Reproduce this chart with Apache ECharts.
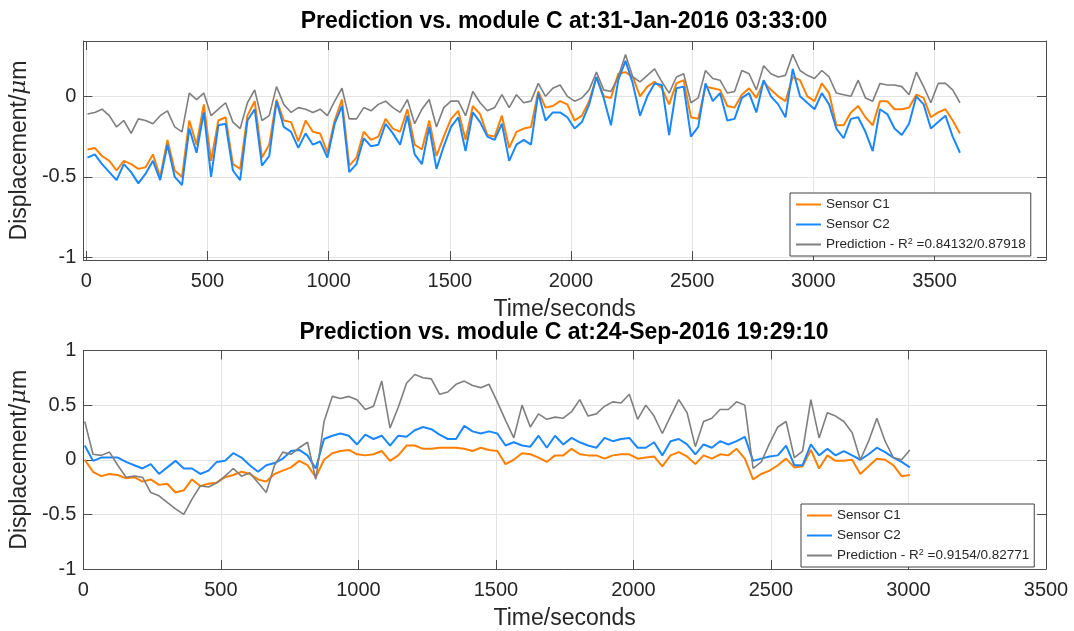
<!DOCTYPE html>
<html>
<head>
    <meta charset="utf-8">
    <title>Prediction vs. module C</title>
    <script src="https://cdn.jsdelivr.net/npm/echarts@6/dist/echarts.min.js"></script>
    <style>
        html, body {margin:0;padding:0;background:#fff;}
        #chart {width:1074px;height:631px;}
    </style>
</head>
<body>
<div id="chart"></div>
<script>
    // sample times: first point and step (seconds)
    var topStart = 5, botStart = 5, step = 30;

    // top panel: 31-Jan-2016 03:33:00
    var topC1 = [-0.33,-0.32,-0.37,-0.40,-0.46,-0.40,-0.42,-0.45,-0.44,-0.36,-0.50,-0.27,-0.46,-0.50,-0.15,-0.30,-0.05,-0.40,-0.15,-0.13,
        -0.42,-0.45,-0.12,-0.03,-0.38,-0.30,-0.02,-0.15,-0.16,-0.28,-0.15,-0.22,-0.23,-0.35,-0.15,-0.02,-0.43,-0.38,-0.22,-0.27,
        -0.25,-0.14,-0.20,-0.22,-0.08,-0.30,-0.33,-0.15,-0.37,-0.25,-0.14,-0.09,-0.27,-0.06,-0.11,-0.24,-0.25,-0.12,-0.32,-0.22,
        -0.20,-0.19,0.03,-0.07,-0.06,-0.03,-0.05,-0.15,-0.12,-0.03,0.12,0.00,-0.01,0.14,0.15,0.12,0.00,0.06,0.09,0.05,
        -0.05,0.08,0.10,-0.13,-0.14,0.06,0.05,0.04,-0.06,-0.07,0.01,0.05,-0.01,0.09,0.04,0.00,-0.03,0.12,0.10,0.00,
        -0.03,0.08,0.02,-0.18,-0.18,-0.10,-0.06,-0.13,-0.18,-0.03,-0.03,-0.08,-0.08,-0.07,0.01,-0.01,-0.13,-0.10,-0.08,-0.15,-0.23];
    var topC2 = [-0.38,-0.36,-0.42,-0.47,-0.52,-0.42,-0.47,-0.54,-0.48,-0.40,-0.52,-0.30,-0.50,-0.55,-0.20,-0.35,-0.10,-0.50,-0.18,-0.17,
        -0.46,-0.52,-0.15,-0.08,-0.43,-0.37,-0.03,-0.19,-0.22,-0.32,-0.23,-0.30,-0.28,-0.38,-0.17,-0.06,-0.47,-0.42,-0.26,-0.31,
        -0.30,-0.17,-0.23,-0.30,-0.12,-0.36,-0.42,-0.19,-0.45,-0.31,-0.19,-0.13,-0.34,-0.10,-0.16,-0.25,-0.27,-0.17,-0.40,-0.30,
        -0.27,-0.30,0.02,-0.15,-0.10,-0.10,-0.13,-0.20,-0.16,-0.05,0.12,-0.01,-0.18,0.10,0.22,0.08,-0.12,0.00,0.08,0.07,
        -0.24,0.05,0.06,-0.25,-0.19,0.08,-0.03,0.02,-0.15,-0.14,-0.01,0.02,-0.10,0.10,0.00,-0.05,-0.13,0.17,0.00,-0.04,
        -0.08,0.02,-0.05,-0.20,-0.26,-0.14,-0.13,-0.22,-0.34,-0.08,-0.11,-0.20,-0.24,-0.17,0.00,-0.05,-0.20,-0.16,-0.12,-0.25,-0.35];
    var topPred = [-0.11,-0.10,-0.08,-0.12,-0.19,-0.15,-0.23,-0.14,-0.15,-0.17,-0.12,-0.09,-0.19,-0.22,0.02,-0.02,0.02,-0.12,-0.08,-0.04,
        -0.16,-0.20,-0.04,0.04,-0.15,-0.12,0.06,-0.05,-0.10,-0.07,-0.08,-0.10,-0.08,-0.12,-0.03,0.05,-0.14,-0.14,-0.07,-0.09,
        -0.05,-0.03,-0.07,-0.10,-0.02,-0.17,-0.08,-0.02,-0.19,-0.07,-0.03,-0.03,-0.12,0.03,-0.04,-0.09,-0.07,0.01,-0.07,0.01,
        -0.04,-0.03,0.08,0.00,0.05,0.07,0.00,-0.03,-0.01,0.04,0.15,0.04,0.03,0.12,0.26,0.12,0.09,0.13,0.17,0.09,
        0.02,0.12,0.14,-0.04,-0.01,0.16,0.11,0.10,0.02,0.03,0.16,0.14,0.04,0.19,0.14,0.12,0.13,0.26,0.16,0.13,
        0.11,0.16,0.12,0.02,0.01,0.00,0.10,-0.01,-0.03,0.08,0.07,0.07,0.06,0.01,0.15,0.06,-0.04,0.08,0.08,0.04,-0.04];

    // bottom panel: 24-Sep-2016 19:29:10
    var botC1 = [0.00,-0.11,-0.15,-0.13,-0.14,-0.17,-0.16,-0.20,-0.18,-0.23,-0.22,-0.30,-0.28,-0.18,-0.24,-0.22,-0.21,-0.16,-0.14,-0.11,
        -0.13,-0.18,-0.20,-0.13,-0.10,-0.07,-0.01,-0.05,-0.16,0.00,0.06,0.08,0.09,0.05,0.04,0.05,0.08,-0.01,0.04,
        0.13,0.13,0.10,0.10,0.11,0.11,0.11,0.10,0.08,0.11,0.09,0.08,-0.04,0.00,0.06,0.05,0.02,-0.02,0.04,0.04,
        0.10,0.05,0.04,0.04,0.01,0.04,0.05,0.05,0.01,0.02,0.03,-0.06,0.04,0.07,0.03,-0.04,0.04,0.01,
        0.05,0.04,0.10,0.01,-0.18,-0.13,-0.10,-0.05,0.01,-0.07,-0.06,0.09,-0.08,0.04,-0.01,-0.01,0.00,-0.13,-0.06,0.01,
        0.00,-0.05,-0.15,-0.14];
    var botC2 = [0.13,-0.01,0.02,0.02,0.02,-0.02,-0.05,-0.08,-0.04,-0.13,-0.07,-0.01,-0.08,-0.08,-0.13,-0.10,-0.02,-0.01,0.06,0.02,
        -0.05,-0.11,-0.05,-0.03,0.01,0.08,0.09,0.04,-0.08,0.19,0.22,0.24,0.22,0.14,0.23,0.19,0.22,0.13,0.22,
        0.21,0.27,0.30,0.28,0.23,0.19,0.19,0.31,0.26,0.24,0.26,0.24,0.13,0.16,0.13,0.12,0.22,0.11,0.22,0.14,
        0.20,0.16,0.13,0.11,0.20,0.17,0.19,0.20,0.11,0.11,0.16,0.04,0.17,0.19,0.14,0.05,0.14,0.11,
        0.17,0.14,0.17,0.21,-0.01,0.01,0.03,0.04,0.13,-0.05,-0.05,0.14,0.04,0.10,0.04,0.08,0.04,0.00,0.05,0.11,
        0.07,0.02,-0.02,-0.07];
    var botPred = [0.35,0.05,0.04,0.07,-0.05,-0.16,-0.15,-0.16,-0.30,-0.33,-0.39,-0.45,-0.50,-0.36,-0.24,-0.25,-0.21,-0.15,-0.08,-0.15,
        -0.12,-0.21,-0.30,-0.05,0.07,0.05,0.11,0.16,-0.18,0.35,0.58,0.56,0.58,0.55,0.46,0.49,0.72,0.29,0.48,
        0.70,0.78,0.75,0.74,0.60,0.62,0.69,0.72,0.68,0.66,0.69,0.53,0.36,0.20,0.50,0.30,0.42,0.37,0.39,0.38,
        0.44,0.55,0.40,0.42,0.49,0.53,0.52,0.60,0.37,0.50,0.40,0.24,0.40,0.55,0.43,0.12,0.35,0.38,
        0.46,0.46,0.53,0.50,-0.08,-0.02,0.15,0.30,0.35,0.02,0.08,0.55,0.20,0.43,0.40,0.35,0.25,0.00,0.17,0.38,
        0.17,0.02,0.00,0.09];

    var xTicks = [0, 500, 1000, 1500, 2000, 2500, 3000, 3500];
    var yTicksTop = [-1, -0.5, 0];
    var yTicksBot = [-1, -0.5, 0, 0.5, 1];
    var titles = ['Prediction vs. module C at:31-Jan-2016 03:33:00', 'Prediction vs. module C at:24-Sep-2016 19:29:10'];
    var r2Top = '0.84132/0.87918', r2Bot = '0.9154/0.82771';

    var font = 'Liberation Sans, Arial, Helvetica, sans-serif';
    var axisColor = '#4d4d4d', textColor = '#262626', gridColor = '#e3e3e3';
    var cOrange = '#ff8000', cBlue = '#1a87ff', cGray = '#7f7f7f';

    function pairs(t0, vals) {
        return vals.map(function (v, i) { return [t0 + i * step, v]; });
    }

    // plain numbers, no thousands separator
    function plain(v) {
        return String(v);
    }

    function xAxis(gridIndex, min, max, pos, main) {
        return {
            type: 'value', gridIndex: gridIndex, min: min, max: max, position: pos, splitNumber: 8,
            axisLine: {show: true, onZero: false, lineStyle: {color: axisColor, width: 1}},
            axisTick: {show: true, inside: true, length: 9, customValues: xTicks, lineStyle: {color: axisColor}},
            axisLabel: {show: main, customValues: xTicks, formatter: plain, margin: 11, fontSize: 20, color: textColor, fontFamily: font},
            splitLine: {show: main, lineStyle: {color: gridColor, width: 1}},
            name: main ? 'Time/seconds' : '', nameLocation: 'middle', nameGap: 38,
            nameTextStyle: {fontSize: 23, color: textColor, fontFamily: font}
        };
    }

    function yAxis(gridIndex, min, max, ticks, pos, main) {
        return {
            type: 'value', gridIndex: gridIndex, min: min, max: max, position: pos, splitNumber: 4,
            axisLine: {show: true, onZero: false, lineStyle: {color: axisColor, width: 1}},
            axisTick: {show: true, inside: true, length: 9, customValues: ticks, lineStyle: {color: axisColor}},
            axisLabel: {show: main, customValues: ticks, formatter: plain, margin: 7, fontSize: 20, color: textColor, fontFamily: font},
            splitLine: {show: main, lineStyle: {color: gridColor, width: 1}},
            name: main ? 'Displacement/{i|μ}m' : '', nameLocation: 'middle', nameGap: 48,
            nameTextStyle: {fontSize: 23, color: textColor, fontFamily: font,
                rich: {i: {fontSize: 23, fontStyle: 'italic', color: textColor, fontFamily: 'DejaVu Serif, serif'}}}
        };
    }

    function line(name, color, width, xi, yi, data) {
        return {
            name: name, type: 'line', xAxisIndex: xi, yAxisIndex: yi, data: data,
            showSymbol: false, symbol: 'none', color: color,
            lineStyle: {color: color, width: width}, z: 3
        };
    }

    function legend(left, top, predName, r2) {
        return {
            orient: 'vertical', left: left, top: top, padding: [4, 5, 4, 6],
            itemWidth: 25, itemHeight: 2, itemGap: 5, icon: 'rect',
            backgroundColor: '#fff', borderColor: '#404040', borderWidth: 1, borderRadius: 0,
            data: ['Sensor C1', 'Sensor C2', predName],
            selectedMode: false,
            formatter: function (name) {
                return name === predName ? 'Prediction - R{sup|2} =' + r2 : name;
            },
            textStyle: {
                fontSize: 13.5, lineHeight: 15, color: textColor, fontFamily: font, padding: [0, 0, 0, 0],
                rich: {sup: {fontSize: 9, verticalAlign: 'top', color: textColor, fontFamily: font}}
            }
        };
    }

    var chart = echarts.init(document.getElementById('chart'), null, {renderer: 'canvas'});
    chart.setOption({
        animation: false,
        backgroundColor: '#fff',
        title: [
            {text: titles[0], left: 564, top: 10, textAlign: 'center', padding: 0,
                textStyle: {fontSize: 23, fontWeight: 'bold', color: '#000', fontFamily: font}},
            {text: titles[1], left: 564, top: 321, textAlign: 'center', padding: 0,
                textStyle: {fontSize: 23, fontWeight: 'bold', color: '#000', fontFamily: font}}
        ],
        legend: [
            legend(790, 193, 'PredTop', r2Top),
            legend(801, 504, 'PredBot', r2Bot)
        ],
        grid: [
            {left: 82, right: 28, top: 41, height: 219},
            {left: 82, right: 28, top: 350.5, height: 220}
        ],
        xAxis: [
            xAxis(0, -12, 3960, 'bottom', true),
            xAxis(1, 0, 3500, 'bottom', true),
            xAxis(0, -12, 3960, 'top', false),
            xAxis(1, 0, 3500, 'top', false)
        ],
        yAxis: [
            yAxis(0, -1.015, 0.343, yTicksTop, 'left', true),
            yAxis(1, -1, 1, yTicksBot, 'left', true),
            yAxis(0, -1.015, 0.343, yTicksTop, 'right', false),
            yAxis(1, -1, 1, yTicksBot, 'right', false)
        ],
        series: [
            line('Sensor C1', cOrange, 2, 0, 0, pairs(topStart, topC1)),
            line('Sensor C2', cBlue, 2, 0, 0, pairs(topStart, topC2)),
            line('PredTop', cGray, 1.6, 0, 0, pairs(topStart, topPred)),
            line('Sensor C1', cOrange, 2, 1, 1, pairs(botStart, botC1)),
            line('Sensor C2', cBlue, 2, 1, 1, pairs(botStart, botC2)),
            line('PredBot', cGray, 1.6, 1, 1, pairs(botStart, botPred))
        ]
    });

    window.onresize = function () {
        chart.resize();
    };
</script>
</body>
</html>
